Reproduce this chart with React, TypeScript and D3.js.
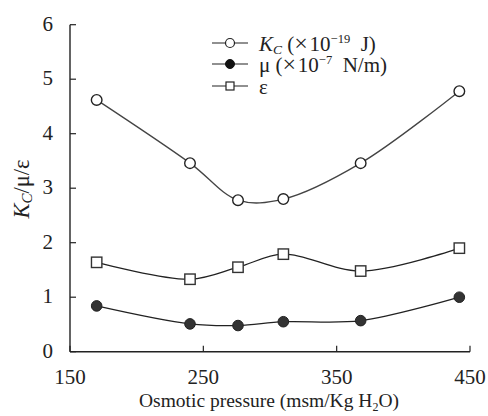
import React from "react";
import * as d3 from "d3";

const osmotic = [170, 240, 276, 310, 368, 442];
const kc = [4.62, 3.46, 2.78, 2.8, 3.46, 4.78];
const mu = [0.84, 0.51, 0.48, 0.55, 0.57, 1.0];
const eps = [1.64, 1.33, 1.55, 1.79, 1.48, 1.9];
const xTicks = [150, 250, 350, 450];
const yTicks = [0, 1, 2, 3, 4, 5, 6];

const W = 488;
const H = 416;
const x = d3.scaleLinear().domain([150, 450]).range([70, 470]);
const y = d3.scaleLinear().domain([0, 6]).range([351.7, 24.7]);
const font = "'Liberation Serif', 'Times New Roman', serif";

const line = (vals: number[]) =>
  d3
    .line<number>()
    .x((_, i) => x(osmotic[i]))
    .y((v) => y(v))
    .curve(d3.curveCatmullRom.alpha(0.5))(vals) || "";

export default function App() {
  const legendX = 212;
  const rows = [43, 64, 86];
  return (
    <svg width={W} height={H} style={{ position: "absolute", left: 0, top: 0, background: "#fff" }}>
      <rect width={W} height={H} fill="#fff" />
      {/* axes */}
      <line x1={70} y1={y(6)} x2={70} y2={y(0)} stroke="#222" strokeWidth={1.4} />
      <line x1={70} y1={y(0)} x2={470} y2={y(0)} stroke="#222" strokeWidth={1.4} />
      {yTicks.map((t) => (
        <g key={"y" + t}>
          <line x1={70} x2={76} y1={y(t)} y2={y(t)} stroke="#222" strokeWidth={1.2} />
          <text x={53} y={y(t) + 6} textAnchor="end" fontFamily={font} fontSize={21} fill="#222">
            {t}
          </text>
        </g>
      ))}
      {xTicks.map((t) => (
        <g key={"x" + t}>
          <line x1={x(t)} x2={x(t)} y1={y(0)} y2={y(0) - 6} stroke="#222" strokeWidth={1.2} />
          <text x={x(t)} y={384} textAnchor="middle" fontFamily={font} fontSize={21} fill="#222">
            {t}
          </text>
        </g>
      ))}
      <text x={269} y={407} textAnchor="middle" fontFamily={font} fontSize={19.5} fill="#222">
        Osmotic pressure (msm/Kg H<tspan fontSize={12} baselineShift="-4">2</tspan>O)
      </text>
      <text
        transform={`translate(29,189) rotate(-90)`}
        textAnchor="middle"
        fontFamily={font}
        fontSize={22.5}
        fill="#222"
      >
        <tspan fontStyle="italic">K</tspan>
        <tspan fontStyle="italic" fontSize={15} baselineShift="-3">C</tspan>
        /μ/ε
      </text>

      {/* lines */}
      <path d={line(kc)} fill="none" stroke="#444" strokeWidth={1.3} />
      <path d={line(eps)} fill="none" stroke="#222" strokeWidth={1.3} />
      <path d={line(mu)} fill="none" stroke="#222" strokeWidth={1.3} />

      {kc.map((v, i) => (
        <circle key={"k" + i} cx={x(osmotic[i])} cy={y(v)} r={5.3} fill="#fff" stroke="#222" strokeWidth={1.4} />
      ))}
      {eps.map((v, i) => (
        <rect
          key={"e" + i}
          x={x(osmotic[i]) - 5.2}
          y={y(v) - 5.2}
          width={10.4}
          height={10.4}
          fill="#fff"
          stroke="#333"
          strokeWidth={1.4}
        />
      ))}
      {mu.map((v, i) => (
        <circle key={"m" + i} cx={x(osmotic[i])} cy={y(v)} r={5.3} fill="#333" stroke="#222" strokeWidth={1} />
      ))}

      {/* legend */}
      {rows.map((ry, i) => (
        <g key={"l" + i}>
          <line x1={legendX} x2={legendX + 36} y1={ry} y2={ry} stroke="#222" strokeWidth={1.2} />
          {i === 0 && <circle cx={legendX + 18} cy={ry} r={4.5} fill="#fff" stroke="#222" strokeWidth={1.2} />}
          {i === 1 && <circle cx={legendX + 18} cy={ry} r={4.5} fill="#111" stroke="#111" />}
          {i === 2 && (
            <rect x={legendX + 14} y={ry - 4} width={8} height={8} fill="#fff" stroke="#222" strokeWidth={1.2} />
          )}
        </g>
      ))}
      <text x={259} y={rows[0] + 8} fontFamily={font} fontSize={21} fill="#222">
        <tspan fontStyle="italic">K</tspan>
        <tspan fontStyle="italic" fontSize={13.5} baselineShift="-3">C</tspan>
        {" ("}
        <tspan fontSize={24}>×</tspan>
        {"\u200A10"}
        <tspan fontSize={12.5} baselineShift="8">−19</tspan>
        {"\u2002J)"}
      </text>
      <text x={259} y={rows[1] + 8} fontFamily={font} fontSize={21} fill="#222">
        {"μ ("}
        <tspan fontSize={24}>×</tspan>
        {"\u200A10"}
        <tspan fontSize={12.5} baselineShift="8">−7</tspan>
        {"\u2002N/m)"}
      </text>
      <text x={259} y={rows[2] + 8} fontFamily={font} fontSize={21} fill="#222">
        ε
      </text>
    </svg>
  );
}
